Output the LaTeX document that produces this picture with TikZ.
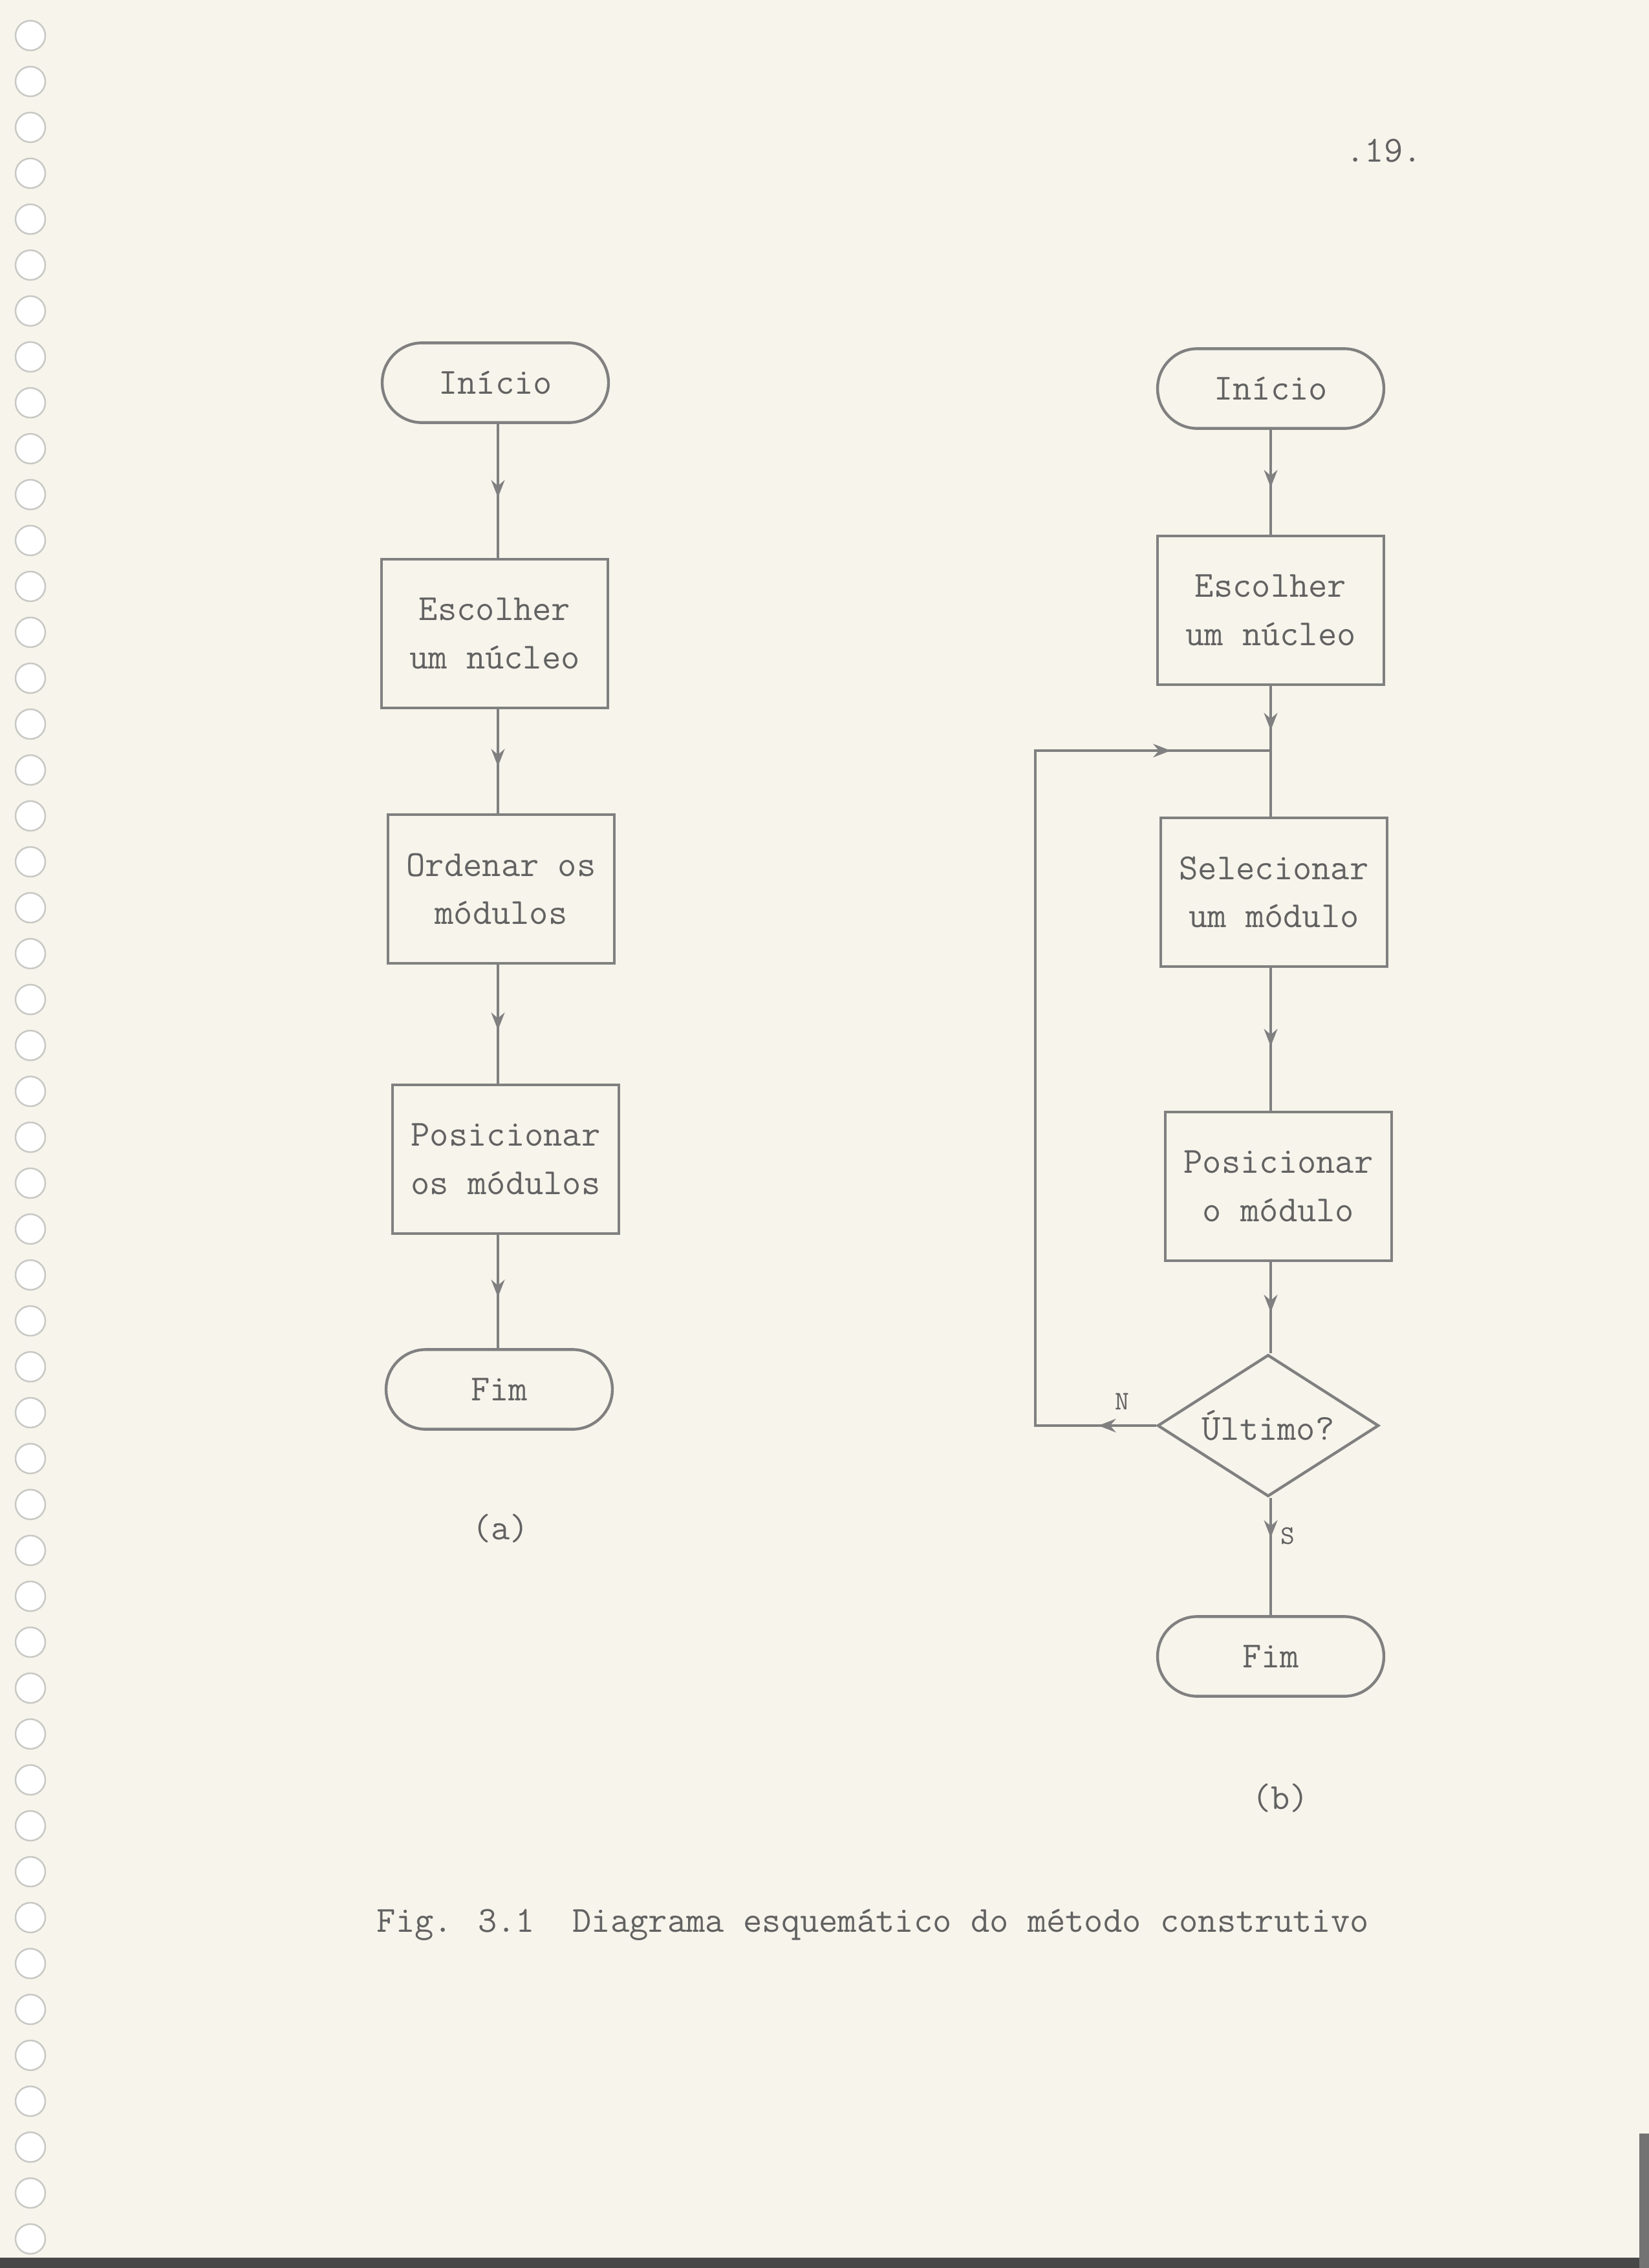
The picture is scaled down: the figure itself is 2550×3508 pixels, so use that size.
\documentclass[tikz,border=0pt]{standalone}
\usepackage{fontspec}
\usetikzlibrary{shapes.geometric,arrows.meta,decorations.markings}

\definecolor{paper}{RGB}{246,244,235}
\definecolor{ink}{RGB}{128,128,128}
\definecolor{typeink}{RGB}{98,98,98}
\definecolor{holeedge}{RGB}{200,200,196}

% typewriter face: pica pitch (10 characters per inch)
\newcommand{\typeface}{\ttfamily\fontsize{13.71}{18}\selectfont\addfontfeatures{FakeBold=1.2}}
\newcommand{\smalltype}{\ttfamily\fontsize{10}{11}\selectfont\addfontfeatures{FakeBold=1.2}}
\newcommand{\flowtip}{\arrow{Stealth[length=6.5pt,width=5pt]}}

\tikzset{
  wire/.style={draw=ink, line width=1.05pt},
  flow/.style={wire, postaction={decorate},
    decoration={markings, mark=at position #1 with {\flowtip}}},
  flow/.default=0.55,
  typed/.style={text=typeink, font=\typeface, inner sep=0pt},
  stepbox/.style={typed, draw=ink, line width=1.05pt, align=center,
    minimum width=84.3pt, minimum height=55.4pt},
  terminal/.style={stepbox, minimum height=29.7pt, rounded corners=14.8pt},
  decision/.style={typed, diamond, draw=ink, line width=1.05pt,
    minimum width=82.4pt, minimum height=52.8pt, shape aspect=1.56},
  branch/.style={text=typeink, font=\smalltype, inner sep=0pt},
}

\begin{document}
\begin{tikzpicture}[x=0.0846667mm, y=-0.0846667mm]
  % page
  \useasboundingbox (0,0) rectangle (2550,3508);
  \fill[paper] (0,0) rectangle (2550,3508);
  % binding holes along the left edge
  \foreach \i in {0,...,48}
    \filldraw[fill=white, draw=holeedge, line width=0.6pt] (47,55+71*\i) circle (23);
  % scanner edges
  \fill[black!72] (0,3492) rectangle (2550,3508);
  \fill[black!55] (2535,3300) rectangle (2550,3508);

  % page number
  \node[typed] (pagenum) at (2140,233) {.19.};

  % ---------------- (a) ----------------
  \coordinate (colA) at (770,0);
  \node[terminal] (iniA) at (766,592)  {Início};
  \node[stepbox]  (escA) at (765,980)  {Escolher\\um núcleo};
  \node[stepbox]  (ordA) at (775,1375) {Ordenar os\\módulos};
  \node[stepbox]  (posA) at (782,1793) {Posicionar\\os módulos};
  \node[terminal] (fimA) at (772,2149) {Fim};
  \node[typed]    (capA) at (774,2364) {(a)};

  \draw[flow] (iniA.south -| colA) -- (escA.north -| colA);
  \draw[flow] (escA.south -| colA) -- (ordA.north -| colA);
  \draw[flow] (ordA.south -| colA) -- (posA.north -| colA);
  \draw[flow] (posA.south -| colA) -- (fimA.north -| colA);

  % ---------------- (b) ----------------
  \coordinate (colB) at (1965,0);
  \node[terminal] (iniB) at (1965,601)  {Início};
  \node[stepbox]  (escB) at (1965,944)  {Escolher\\um núcleo};
  \node[stepbox]  (selB) at (1970,1380) {Selecionar\\um módulo};
  \node[stepbox]  (posB) at (1977,1835) {Posicionar\\o módulo};
  \node[decision] (ult)  at (1961,2205) {Último?};
  \node[terminal] (fimB) at (1965,2562) {Fim};
  \node[typed]    (capB) at (1980,2781) {(b)};

  \draw[flow]      (iniB.south -| colB) -- (escB.north -| colB);
  \draw[flow=0.34] (escB.south -| colB) -- (selB.north -| colB);
  \draw[flow]      (selB.south -| colB) -- (posB.north -| colB);
  \draw[flow]      (posB.south -| colB) -- (ult.north -| colB);
  \draw[flow=0.34] (ult.south -| colB)  -- (fimB.north -| colB);

  % return loop on "N"
  \coordinate (loopTL) at (1601,1161);
  \draw[wire, postaction={decorate}, decoration={markings,
      mark=at position 0.056 with {\flowtip},
      mark=at position 0.903 with {\flowtip}}]
    (ult.west) -- (ult.west -| loopTL) -- (loopTL) -- (loopTL -| colB);

  \node[branch] (lblN) at (1735,2168) {N};
  \node[branch] (lblS) at (1991,2376) {S};

  % caption
  \node[typed, anchor=west] (caption) at (582,2977)
    {Fig. 3.1\ \ Diagrama esquemático do método construtivo};
\end{tikzpicture}
\end{document}
